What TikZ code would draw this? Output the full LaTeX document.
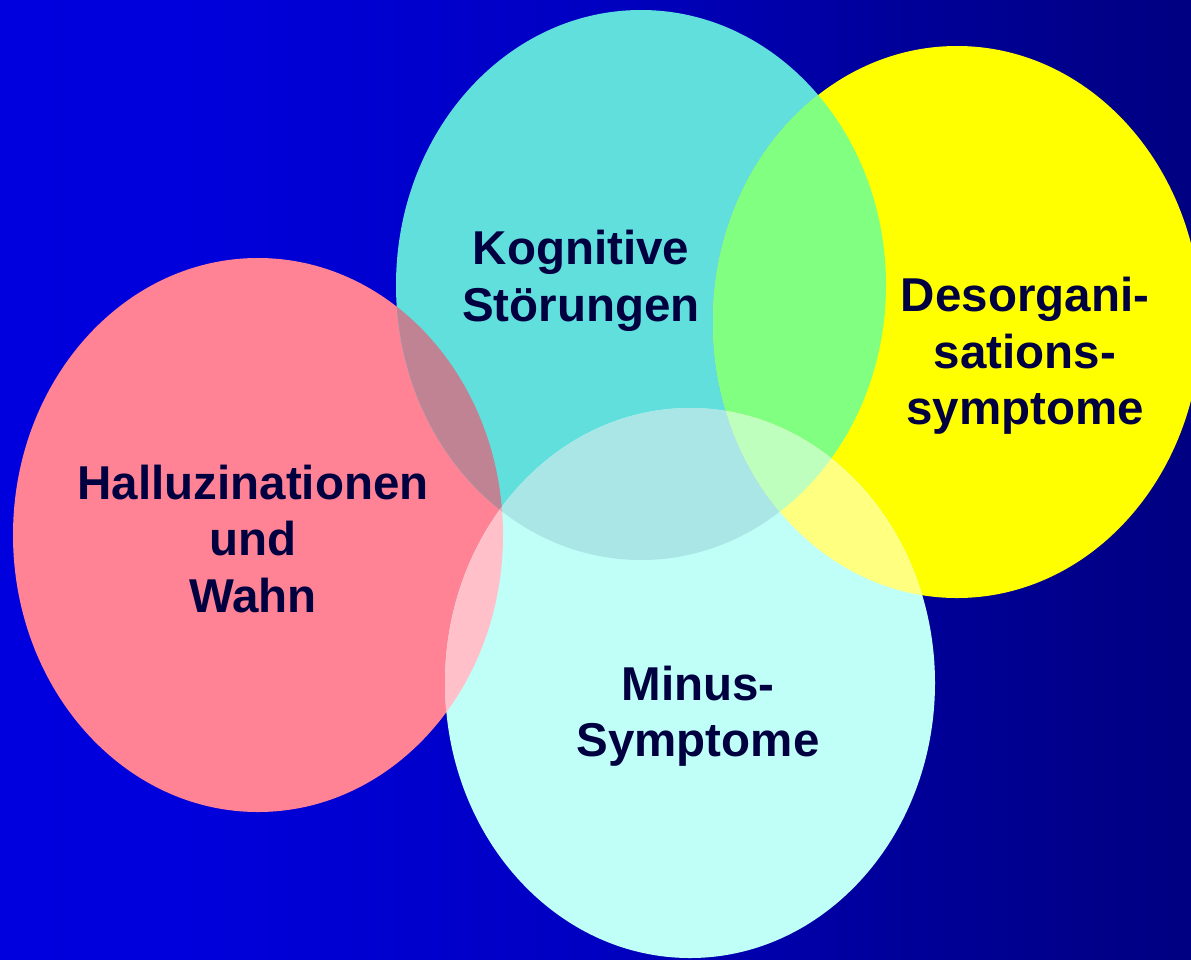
\documentclass[tikz,border=0pt]{standalone}
\usepackage{fontspec}
\setmainfont{Liberation Sans}
\definecolor{cRed}{RGB}{255,131,148}
\definecolor{cCyan}{RGB}{96,223,220}
\definecolor{cYel}{RGB}{255,255,0}
\definecolor{cMin}{RGB}{192,255,247}
\definecolor{cRC}{RGB}{191,131,148}
\definecolor{cCY}{RGB}{128,255,128}
\definecolor{cRM}{RGB}{255,192,202}
\definecolor{cCM}{RGB}{170,230,230}
\definecolor{cYM}{RGB}{255,255,128}
\definecolor{cCYM}{RGB}{190,255,190}
\definecolor{cRCM}{RGB}{215,175,185}
\definecolor{txt}{RGB}{0,0,64}
\pgfdeclarehorizontalshading{bgshade}{100bp}{rgb(0bp)=(0,0,0.91); rgb(33bp)=(0,0,0.86); rgb(50bp)=(0,0,0.76); rgb(63bp)=(0,0,0.60); rgb(76bp)=(0,0,0.50); rgb(90bp)=(0,0,0.40); rgb(100bp)=(0,0,0.31)}
\tikzset{
  lbl/.style={text=txt, align=center, font=\fontsize{47.5}{56.5}\selectfont\bfseries, inner sep=0pt}
}
\def\ellR{(cR) ellipse [x radius=245pt, y radius=277pt]}
\def\ellC{(cC) ellipse [x radius=245pt, y radius=275pt]}
\def\ellY{(cY) ellipse [x radius=244pt, y radius=276pt]}
\def\ellM{(cM) ellipse [x radius=245pt, y radius=275pt]}
\begin{document}
\begin{tikzpicture}[x=1pt,y=-1pt]
\useasboundingbox (0,0) rectangle (1191,959);
\shade[shading=bgshade] (0,0) rectangle (1191,959);
\coordinate (cR) at (258,535);
\coordinate (cC) at (641,285);
\coordinate (cY) at (957,322);
\coordinate (cM) at (690,683);
\fill[cRed] \ellR;
\fill[cCyan] \ellC;
\fill[cYel] \ellY;
\fill[cMin] \ellM;
\begin{scope}\clip \ellR; \fill[cRC] \ellC; \end{scope}
\begin{scope}\clip \ellC; \fill[cCY] \ellY; \end{scope}
\begin{scope}\clip \ellR; \fill[cRM] \ellM; \end{scope}
\begin{scope}\clip \ellC; \fill[cCM] \ellM; \end{scope}
\begin{scope}\clip \ellY; \fill[cYM] \ellM; \end{scope}
\begin{scope}\clip \ellC; \clip \ellY; \fill[cCYM] \ellM; \end{scope}
\begin{scope}\clip \ellR; \clip \ellC; \fill[cRCM] \ellM; \end{scope}
\node[lbl] (kog) at (581,281) {Kognitive\\Störungen};
\node[lbl] (des) at (1025,356) {Desorgani-\\sations-\\symptome};
\node[lbl] (hal) at (253,539) {Halluzinationen\\und\\Wahn};
\node[lbl] (min) at (698,716) {Minus-\\Symptome};
\end{tikzpicture}
\end{document}
